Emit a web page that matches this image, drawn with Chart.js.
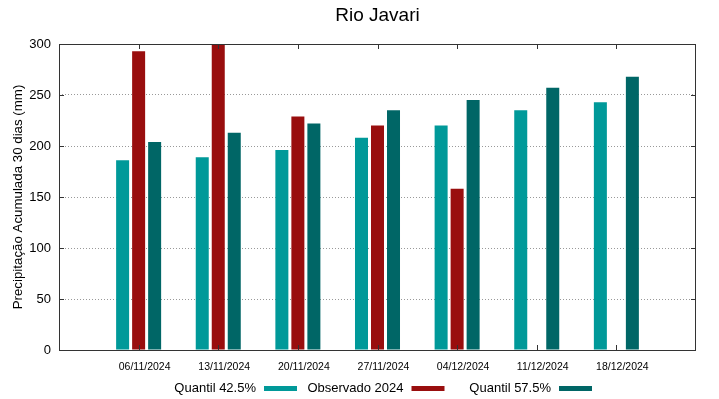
<!DOCTYPE html>
<html>
<head>
<meta charset="utf-8">
<script src="https://cdn.jsdelivr.net/npm/chart.js@4.4.1/dist/chart.umd.min.js"></script>
<style>
  html, body { margin: 0; padding: 0; background: #fff; }
  #wrap { width: 719px; height: 399px; }
</style>
</head>
<body>
<div id="wrap"><canvas id="grafico"></canvas></div>
<script>
var titulo = 'Rio Javari';
var fechas = ['06/11/2024', '13/11/2024', '20/11/2024', '27/11/2024', '04/12/2024', '11/12/2024', '18/12/2024'];
var quantil425 = [186, 189, 196, 208, 220, 235, 243];
var observado = [293, 300, 229, 220, 158, null, null];
var quantil575 = [204, 213, 222, 235, 245, 257, 268];
var yTicks = [0, 50, 100, 150, 200, 250, 300];

// gnuplot deja un hueco a cada lado: una categoria vacia al inicio y al final
function rellenar(arr) { return [null].concat(arr, [null]); }
var etiquetas = [''].concat(fechas, ['']);

var fuente = "'Liberation Sans', Arial, sans-serif";

var marcoPlugin = {
  id: 'marco',
  afterDraw: function (chart) {
    var ctx = chart.ctx;
    var a = chart.chartArea;
    var x = chart.scales.x, y = chart.scales.y;
    ctx.save();
    ctx.strokeStyle = '#333';
    ctx.lineWidth = 1;
    // caja
    ctx.strokeRect(a.left + 0.5, a.top + 0.5, a.right - a.left - 1, a.bottom - a.top);
    // ticks hacia adentro
    ctx.beginPath();
    for (var i = 1; i <= fechas.length; i++) {
      var px = Math.round(x.getPixelForValue(i)) + 0.5;
      ctx.moveTo(px, a.bottom); ctx.lineTo(px, a.bottom - 5);
      ctx.moveTo(px, a.top); ctx.lineTo(px, a.top + 5);
    }
    yTicks.forEach(function (v) {
      var py = Math.round(y.getPixelForValue(v)) + 0.5;
      ctx.moveTo(a.left, py); ctx.lineTo(a.left + 5, py);
      ctx.moveTo(a.right, py); ctx.lineTo(a.right - 5, py);
    });
    ctx.stroke();

    // titulo centrado sobre el area del grafico
    ctx.fillStyle = '#000';
    ctx.font = '19px ' + fuente;
    ctx.textAlign = 'center';
    ctx.textBaseline = 'middle';
    ctx.fillText(titulo, (a.left + a.right) / 2, 16);

    // leyenda estilo gnuplot: texto a la derecha y muestra despues
    ctx.font = '13px ' + fuente;
    ctx.textAlign = 'right';
    var colW = 147.5, inicio = 149.5, ly = 388;
    chart.data.datasets.forEach(function (ds, k) {
      var finMuestra = inicio + colW * (k + 1);
      var ini = finMuestra - 33;
      ctx.fillStyle = '#000';
      ctx.fillText(ds.label, ini - 8, ly);
      ctx.fillStyle = ds.backgroundColor;
      ctx.fillRect(ini, ly - 2, 33, 5);
    });
    ctx.restore();
  }
};

new Chart(document.getElementById('grafico'), {
  type: 'bar',
  plugins: [marcoPlugin],
  data: {
    labels: etiquetas,
    datasets: [
      { label: 'Quantil 42.5%', data: rellenar(quantil425), backgroundColor: '#009999' },
      { label: 'Observado 2024', data: rellenar(observado), backgroundColor: '#990e0e' },
      { label: 'Quantil 57.5%', data: rellenar(quantil575), backgroundColor: '#006666' }
    ]
  },
  options: {
    responsive: true,
    maintainAspectRatio: false,
    animation: false,
    categoryPercentage: 0.603,
    barPercentage: 0.8125,
    layout: { padding: { left: 0, right: 23, top: 44, bottom: 0 } },
    plugins: {
      legend: { display: false },
      title: { display: false },
      tooltip: { enabled: false }
    },
    scales: {
      x: {
        offset: false,
        grid: { display: false, drawTicks: false },
        border: { display: false },
        ticks: {
          autoSkip: false,
          maxRotation: 0,
          padding: 11,
          labelOffset: 6,
          color: '#000',
          font: { family: fuente, size: 10.5 }
        },
        afterFit: function (s) { s.height = 49; }
      },
      y: {
        min: 0,
        max: 300,
        afterBuildTicks: function (s) { s.ticks = yTicks.map(function (v) { return { value: v }; }); },
        grid: {
          drawTicks: false,
          color: function (c) { return (c.tick && (c.tick.value === 0 || c.tick.value === 300)) ? 'rgba(0,0,0,0)' : '#999'; },
          lineWidth: 1
        },
        border: { display: false, dash: [1, 2] },
        ticks: {
          padding: 8,
          color: '#000',
          font: { family: fuente, size: 13 }
        },
        title: {
          display: true,
          text: 'Precipitação Acumulada 30 dias (mm)',
          color: '#000',
          font: { family: fuente, size: 13.3 },
          padding: { top: 10, bottom: 0 }
        },
        afterFit: function (s) { s.width = 59; }
      }
    }
  }
});
</script>
</body>
</html>
